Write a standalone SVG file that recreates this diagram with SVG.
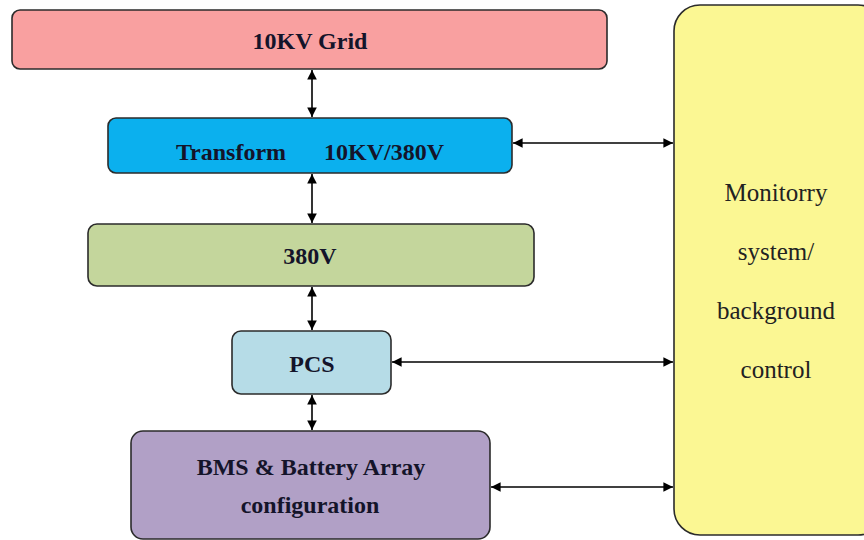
<svg xmlns="http://www.w3.org/2000/svg" width="864" height="540" viewBox="0 0 864 540">
<defs>
<style>
.box{stroke:#2b2b2b;stroke-width:1.6}
.t{font-family:"Liberation Serif","Times New Roman",serif;font-weight:bold;font-size:24px;fill:#14142a;text-anchor:middle}
.m{font-family:"Liberation Serif","Times New Roman",serif;font-size:25px;fill:#222;text-anchor:middle}
.c{stroke:#000;stroke-width:1.6;fill:none;marker-start:url(#ah);marker-end:url(#ah)}
</style>
<marker id="ah" viewBox="0 0 10 10" refX="10" refY="5" markerWidth="6" markerHeight="6" orient="auto-start-reverse" markerUnits="strokeWidth">
<path d="M0,0 L10,5 L0,10 Z" fill="#000"/>
</marker>
</defs>
<rect width="864" height="540" fill="#fff"/>
<g id="grid">
<rect class="box" x="12" y="10" width="595" height="59" rx="8" fill="#f9a0a0"/>
<text class="t" x="310" y="49">10KV Grid</text>
</g>
<g id="transform">
<rect class="box" x="108" y="118" width="404" height="55" rx="8" fill="#0bb0ee"/>
<text class="t" x="231" y="160">Transform</text>
<text class="t" x="384" y="160">10KV/380V</text>
</g>
<g id="v380">
<rect class="box" x="88" y="224" width="446" height="62" rx="9" fill="#c4d69c"/>
<text class="t" x="310" y="264">380V</text>
</g>
<g id="pcs">
<rect class="box" x="232" y="331" width="159" height="63" rx="9" fill="#b6dce7"/>
<text class="t" x="312" y="372">PCS</text>
</g>
<g id="bms">
<rect class="box" x="131" y="431" width="359" height="108" rx="12" fill="#b1a0c6"/>
<text class="t" x="311" y="475">BMS &amp; Battery Array</text>
<text class="t" x="310" y="513">configuration</text>
</g>
<g id="monitor">
<rect class="box" x="674" y="5" width="210" height="530" rx="26" fill="#fbf793"/>
<text class="m" x="776" y="201">Monitorry</text>
<text class="m" x="776" y="260">system/</text>
<text class="m" x="776" y="319">background</text>
<text class="m" x="776" y="378">control</text>
</g>
<g id="connectors">
<line class="c" x1="312" y1="70" x2="312" y2="117"/>
<line class="c" x1="312" y1="174" x2="312" y2="223"/>
<line class="c" x1="312" y1="287" x2="312" y2="330"/>
<line class="c" x1="312" y1="395" x2="312" y2="430"/>
<line class="c" x1="513" y1="143" x2="673" y2="143"/>
<line class="c" x1="392" y1="362" x2="673" y2="362"/>
<line class="c" x1="491" y1="487" x2="673" y2="487"/>
</g>
</svg>
